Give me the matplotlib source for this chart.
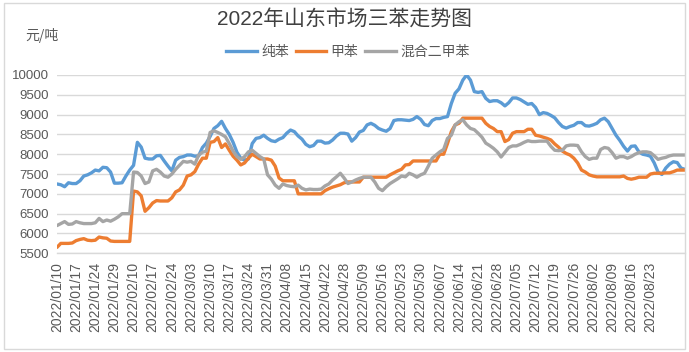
import matplotlib
matplotlib.use("Agg")
import matplotlib.pyplot as plt
from matplotlib.lines import Line2D
from matplotlib.patches import Rectangle

plt.rcParams['font.family'] = ['Liberation Sans', 'Noto Sans CJK SC', 'DejaVu Sans']

title = "2022年山东市场三苯走势图"
unit_label = "元/吨"
series_names = ["纯苯", "甲苯", "混合二甲苯"]

tick_labels = ["2022/01/10", "2022/01/17", "2022/01/24", "2022/01/29", "2022/02/10",
               "2022/02/17", "2022/02/24", "2022/03/03", "2022/03/10", "2022/03/17",
               "2022/03/24", "2022/03/31", "2022/04/08", "2022/04/15", "2022/04/22",
               "2022/04/28", "2022/05/09", "2022/05/16", "2022/05/23", "2022/05/30",
               "2022/06/07", "2022/06/14", "2022/06/21", "2022/06/28", "2022/07/05",
               "2022/07/12", "2022/07/19", "2022/07/26", "2022/08/02", "2022/08/09",
               "2022/08/16", "2022/08/23"]
tick_step = 5

benzene = [
    7250, 7230, 7180, 7280, 7260, 7260, 7330, 7450, 7480, 7530,
    7600, 7580, 7670, 7660, 7550, 7270, 7270, 7280, 7450, 7600,
    7720, 8300, 8180, 7900, 7880, 7880, 7960, 7970, 7830, 7700,
    7580, 7850, 7920, 7940, 7980, 7980, 7950, 7960, 8170, 8280,
    8450, 8650, 8720, 8830, 8650, 8500, 8300, 8050, 7900, 7850,
    7880, 8270, 8400, 8420, 8480, 8400, 8340, 8320, 8380, 8420,
    8530, 8610, 8570, 8460, 8380, 8250, 8190, 8220, 8330, 8330,
    8280, 8290, 8360, 8460, 8530, 8530, 8510, 8330, 8420, 8560,
    8600, 8740, 8780, 8730, 8650, 8610, 8580, 8650, 8850, 8870,
    8870, 8860, 8850, 8880, 8950, 8880, 8750, 8720, 8850, 8900,
    8900, 8930, 8950, 9280, 9540, 9650, 9870, 10000, 9870, 9580,
    9560, 9580, 9410, 9330, 9350, 9350, 9300, 9220, 9300, 9420,
    9420, 9380, 9320, 9260, 9280, 9180, 9000, 9050, 9030, 8980,
    8920, 8800, 8700, 8660, 8700, 8730, 8800, 8800, 8720, 8710,
    8740, 8780, 8870, 8910, 8820, 8650, 8480, 8350, 8200, 8080,
    8200, 8210, 8060, 8000, 7980, 7950, 7780, 7550, 7490, 7650,
    7750, 7810, 7790, 7650, 7620]

toluene = [
    5650, 5750, 5750, 5750, 5760, 5820, 5850, 5870, 5830, 5820,
    5830, 5910, 5890, 5880, 5810, 5800, 5800, 5800, 5800, 5800,
    7070, 7050, 6950, 6560, 6650, 6770, 6830, 6820, 6820, 6820,
    6900, 7050, 7100, 7220, 7450, 7480, 7560, 7750, 7900, 7900,
    8300, 8320, 8420, 8170, 8260, 8100, 7950, 7850, 7730, 7780,
    7900, 8000, 7940, 7880, 7880, 7880, 7850, 7700, 7400, 7330,
    7330, 7330, 7330, 7000, 7000, 7000, 7000, 7000, 7000, 7000,
    7080, 7130, 7170, 7200, 7230, 7280, 7300, 7300, 7300, 7300,
    7420, 7420, 7420, 7420, 7420, 7420, 7420, 7480, 7530, 7580,
    7620, 7730, 7740, 7830, 7830, 7830, 7830, 7830, 7830, 7830,
    8000, 8000, 8270, 8570, 8740, 8780, 8910, 8910, 8910, 8910,
    8910, 8910, 8780, 8700, 8650, 8570, 8570, 8320, 8370, 8530,
    8570, 8570, 8570, 8630, 8630, 8480, 8460, 8430, 8400, 8360,
    8260, 8180, 8080, 8020, 7980, 7900, 7780, 7600, 7550, 7480,
    7450, 7430, 7430, 7430, 7430, 7430, 7430, 7430, 7450, 7390,
    7370, 7390, 7420, 7420, 7420, 7500, 7520, 7520, 7520, 7530,
    7530, 7560, 7600, 7600, 7600]

xylene = [
    6200, 6250, 6300, 6230, 6240, 6300, 6270, 6250, 6250, 6250,
    6270, 6380, 6300, 6340, 6310, 6360, 6420, 6500, 6500, 6500,
    7550, 7540, 7450, 7260, 7300, 7580, 7620, 7550, 7450, 7420,
    7500, 7620, 7720, 7820, 7800, 7820, 7750, 7980, 8050, 8080,
    8550, 8590, 8550, 8500, 8440, 8270, 8080, 7940, 7870, 7940,
    8060, 8100, 8020, 7940, 7880, 7480, 7370, 7220, 7140, 7250,
    7210, 7190, 7180, 7220, 7140, 7100, 7120, 7110, 7110, 7120,
    7200, 7250, 7350, 7430, 7520, 7400, 7260, 7300, 7350, 7390,
    7420, 7420, 7420, 7300, 7140, 7080, 7180, 7260, 7320, 7380,
    7450, 7430, 7520, 7480, 7420, 7480, 7520, 7700, 7900, 7980,
    8060, 8120, 8400, 8480, 8740, 8820, 8870, 8740, 8650, 8620,
    8530, 8430, 8280, 8220, 8150, 8060, 7930, 8050, 8170, 8210,
    8210, 8250, 8300, 8340, 8320, 8320, 8330, 8330, 8330, 8200,
    8100, 8090, 8100, 8210, 8230, 8230, 8220, 8060, 7940, 7870,
    7900, 7900, 8120, 8170, 8150, 8040, 7900, 7940, 7940, 7900,
    7940, 8000, 8040, 8060, 8060, 8040, 7960, 7870, 7900, 7920,
    7960, 7980, 7980, 7980, 7980]

colors = ["#5B9BD5", "#ED7D31", "#A5A5A5"]
text_color = "#595959"

fig = plt.figure(figsize=(6.89, 3.52), dpi=100)
fig.patch.set_facecolor("white")
fig.patches.append(Rectangle((0.006, 0.008), 0.988, 0.984, transform=fig.transFigure,
                             fill=False, edgecolor="#D9D9D9", linewidth=1.0))

ax = fig.add_axes([0.0827, 0.2804, 0.9113, 0.5066])
x = list(range(len(benzene)))
for vals, c, name in zip([benzene, toluene, xylene], colors, series_names):
    ax.plot(x, vals, color=c, linewidth=2.4, label=name, solid_joinstyle="round",
            solid_capstyle="round", zorder=3)

ax.set_xlim(0, len(benzene) - 1)
ax.set_ylim(5500, 10000)
ax.set_yticks(range(5500, 10001, 500))
ax.yaxis.grid(True, color="#D9D9D9", linewidth=1.0)
ax.set_axisbelow(True)
for s in ["top", "right", "left"]:
    ax.spines[s].set_visible(False)
ax.spines["bottom"].set_color("#D9D9D9")
ax.spines["bottom"].set_linewidth(1.0)
ax.tick_params(axis="both", length=0, labelsize=9.5, labelcolor=text_color)
ax.tick_params(axis="y", pad=6)
ax.set_xticks([i * tick_step for i in range(len(tick_labels))])
ax.set_xticklabels(tick_labels, rotation=90, fontsize=10)
ax.tick_params(axis="x", pad=6)

fig.text(0.5, 0.945, title, ha="center", va="center", fontsize=15, color="#404040",
         family=['Liberation Sans', 'Noto Sans CJK SC'])
fig.text(0.036, 0.9, unit_label, ha="left", va="center", fontsize=10, color=text_color,
         family=['Noto Sans CJK SC'])

handles = [Line2D([0], [0], color=c, linewidth=2.4) for c in colors]
leg = fig.legend(handles, series_names, loc="center", bbox_to_anchor=(0.505, 0.852), ncol=3,
                 frameon=False, handlelength=2.2, handletextpad=0.3,
                 columnspacing=0.5, prop={'family': 'Noto Sans CJK SC', 'size': 10})
for t in leg.get_texts():
    t.set_color(text_color)

fig.savefig("out.png", dpi=100, facecolor="white")
